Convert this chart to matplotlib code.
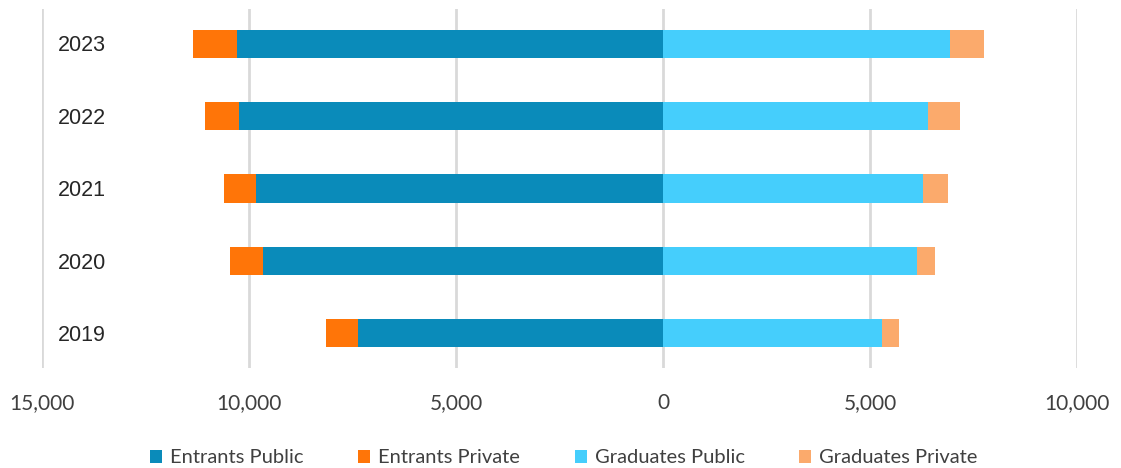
import matplotlib.pyplot as plt
from matplotlib.ticker import FuncFormatter

# student numbers by year: entrants drawn to the left, graduates to the right
years = ["2019", "2020", "2021", "2022", "2023"]
entrants_public = [7360, 9660, 9840, 10240, 10300]
entrants_private = [780, 800, 760, 820, 1050]
graduates_public = [5290, 6130, 6270, 6410, 6940]
graduates_private = [400, 450, 620, 770, 810]

c_ent_pub = "#0A8BBA"
c_ent_priv = "#FF7508"
c_grad_pub = "#45CEFC"
c_grad_priv = "#FBAA6C"

fig = plt.figure(figsize=(11.21, 4.68), dpi=100)
ax = fig.add_axes([0.0375, 0.2137, 0.9232, 0.767])

pos = range(len(years))
h = 0.39
neg_pub = [-v for v in entrants_public]
neg_priv = [-v for v in entrants_private]
ax.barh(pos, neg_pub, height=h, color=c_ent_pub, label="Entrants Public", zorder=3)
ax.barh(pos, neg_priv, left=neg_pub, height=h, color=c_ent_priv,
        label="Entrants Private", zorder=3)
ax.barh(pos, graduates_public, height=h, color=c_grad_pub,
        label="Graduates Public", zorder=3)
ax.barh(pos, graduates_private, left=graduates_public, height=h,
        color=c_grad_priv, label="Graduates Private", zorder=3)

ax.set_xlim(-15000, 10000)
ax.set_ylim(-0.48, 4.48)
ax.set_xticks(range(-15000, 10001, 5000))
ax.xaxis.set_major_formatter(FuncFormatter(lambda v, p: f"{abs(int(v)):,}"))
ax.set_yticks([])
ax.grid(axis="x", color="#D9D9D9", linewidth=2, zorder=0)
for s in ax.spines.values():
    s.set_visible(False)
ax.tick_params(axis="x", length=0, pad=18, labelsize=15, labelcolor="#404040")
for lbl in ax.get_xticklabels():
    lbl.set_fontfamily("Lato")

# year labels sit inside the plot area, just right of the leftmost gridline
for i, y in enumerate(years):
    ax.text(-14620, i - 0.03, y, ha="left", va="center", fontsize=15.5,
            family="Liberation Sans", color="#262626", zorder=4)

fig.legend(loc="lower center", bbox_to_anchor=(0.503, -0.035), ncol=4,
           frameon=False, prop={"family": "Lato", "size": 14.5},
           handlelength=0.6, handleheight=0.6, handletextpad=0.4,
           columnspacing=2.7, labelcolor="#404040")

fig.savefig("out.png", dpi=100)
